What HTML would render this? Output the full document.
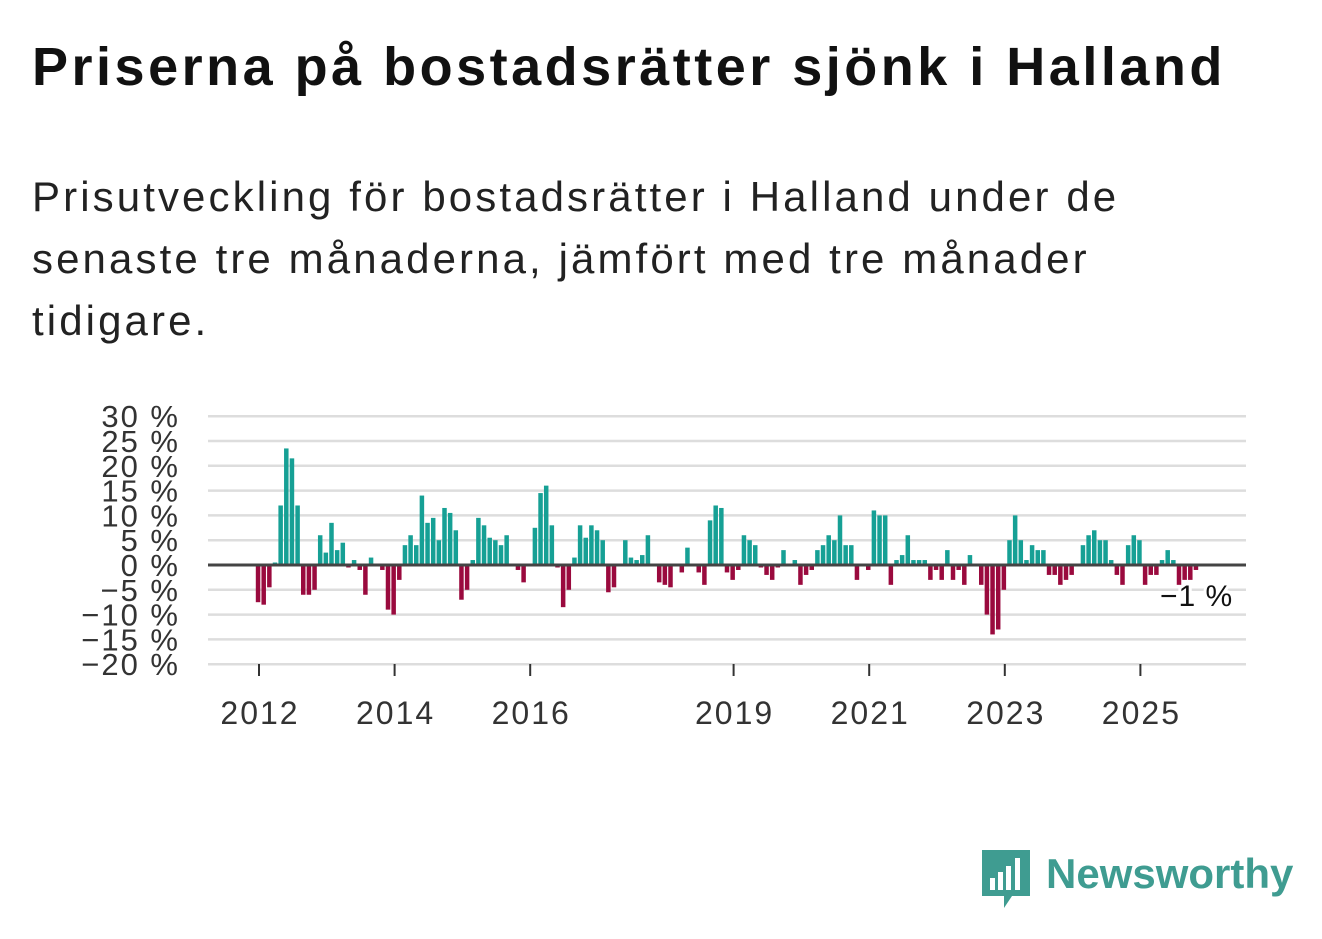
<!DOCTYPE html>
<html><head><meta charset="utf-8"><style>
body{margin:0;width:1322px;height:939px;background:#fff;font-family:"Liberation Sans",sans-serif;overflow:hidden;position:relative}
h1{position:absolute;left:32px;top:36px;margin:0;font-size:54px;font-weight:bold;color:#111;letter-spacing:3.5px;white-space:nowrap}
p{position:absolute;left:32px;top:166px;margin:0;font-size:42px;line-height:62px;color:#222;width:1125px;letter-spacing:3.1px}
svg{position:absolute;left:0;top:0}
</style></head><body>
<h1>Priserna på bostadsrätter sjönk i Halland</h1>
<p>Prisutveckling för bostadsrätter i Halland under de senaste tre månaderna, jämfört med tre månader tidigare.</p>
<svg id="c" width="1322" height="939"></svg>
<script>
const values=[-7.5,-8,-4.5,0.5,12,23.5,21.5,12,-6,-6,-5,6,2.5,8.5,3,4.5,-0.5,1,-1,-6,1.5,0,-1,-9,-10,-3,4,6,4,14,8.5,9.5,5,11.5,10.5,7,-7,-5,1,9.5,8,5.5,5,4,6,0,-1,-3.5,0,7.5,14.5,16,8,-0.5,-8.5,-5,1.5,8,5.5,8,7,5,-5.5,-4.5,0,5,1.5,1,2,6,0,-3.5,-4,-4.5,0,-1.5,3.5,0,-1.5,-4,9,12,11.5,-1.5,-3,-1,6,5,4,-0.5,-2,-3,-0.5,3,0,1,-4,-2,-1,3,4,6,5,10,4,4,-3,0,-1,11,10,10,-4,1,2,6,1,1,1,-3,-1,-3,3,-3,-1,-4,2,0,-4,-10,-14,-13,-5,5,10,5,1,4,3,3,-2,-2,-4,-3,-2,0,4,6,7,5,5,1,-2,-4,4,6,5,-4,-2,-2,1,3,1,-4,-3,-3,-1];
const yTicks=[30,25,20,15,10,5,0,-5,-10,-15,-20];
const xYears=[2012,2014,2016,2019,2021,2023,2025];
const NS='http://www.w3.org/2000/svg';
const svg=document.getElementById('c');
const y0=565,pxU=4.96,x0=258,pitch=5.65;
const yS=v=>y0-v*pxU;
const xS=i=>x0+i*pitch;
const xYear=yr=>x0+(yr-2012)*12*pitch+1;
function mk(t,a){const e=document.createElementNS(NS,t);for(const k in a)e.setAttribute(k,a[k]);svg.appendChild(e);return e;}
yTicks.forEach(t=>{
 const l=mk('line',{x1:208,x2:1246,y1:yS(t),y2:yS(t),stroke:'#ddd','stroke-width':2.5});
 
 
 const tx=mk('text',{x:180,y:yS(t)+11,'text-anchor':'end','font-size':31,fill:'#333','letter-spacing':2});
 tx.textContent=(t<0?'\u2212'+(-t):t)+' %';
 
 
});
mk('line',{x1:208,x2:1246,y1:664,y2:664,stroke:'#ddd','stroke-width':1});
xYears.forEach(yr=>{
 const x=xYear(yr);
 mk('line',{x1:x,x2:x,y1:664,y2:676,stroke:'#333','stroke-width':2});
 const tx=mk('text',{x:x+1,y:724,'text-anchor':'middle','font-size':32,fill:'#333','letter-spacing':2});
 tx.textContent=yr;
 
 
});
values.forEach((v,i)=>{
 const b=mk('rect',{x:xS(i)-2.2,y:Math.min(yS(v),y0),width:4.5,height:Math.abs(yS(v)-y0),fill:v>=0?'#16a095':'#9a0a3e'});
 
 
});
mk('line',{x1:208,x2:1246,y1:y0,y2:y0,stroke:'#444','stroke-width':3});
const lb=mk('text',{x:1160,y:606,'font-size':30,fill:'#111',stroke:'#fff','stroke-width':6,'paint-order':'stroke','letter-spacing':1});
lb.textContent='\u22121 %';


</script>
<div style="position:absolute;left:982px;top:850px;display:flex;align-items:center">
<svg width="48" height="60" viewBox="0 0 48 60" style="position:static"><path d="M0 0H48V46H30L22 58V46H0Z" fill="#3f9c91"/><rect x="8" y="28" width="5" height="12" fill="#fff"/><rect x="16" y="22" width="5" height="18" fill="#fff"/><rect x="24" y="16" width="5" height="24" fill="#fff"/><rect x="33" y="8" width="5" height="32" fill="#fff"/></svg>
<span style="font-size:42px;font-weight:bold;color:#3f9c91;margin-left:16px;margin-top:-12px">Newsworthy</span></div>
</body></html>
